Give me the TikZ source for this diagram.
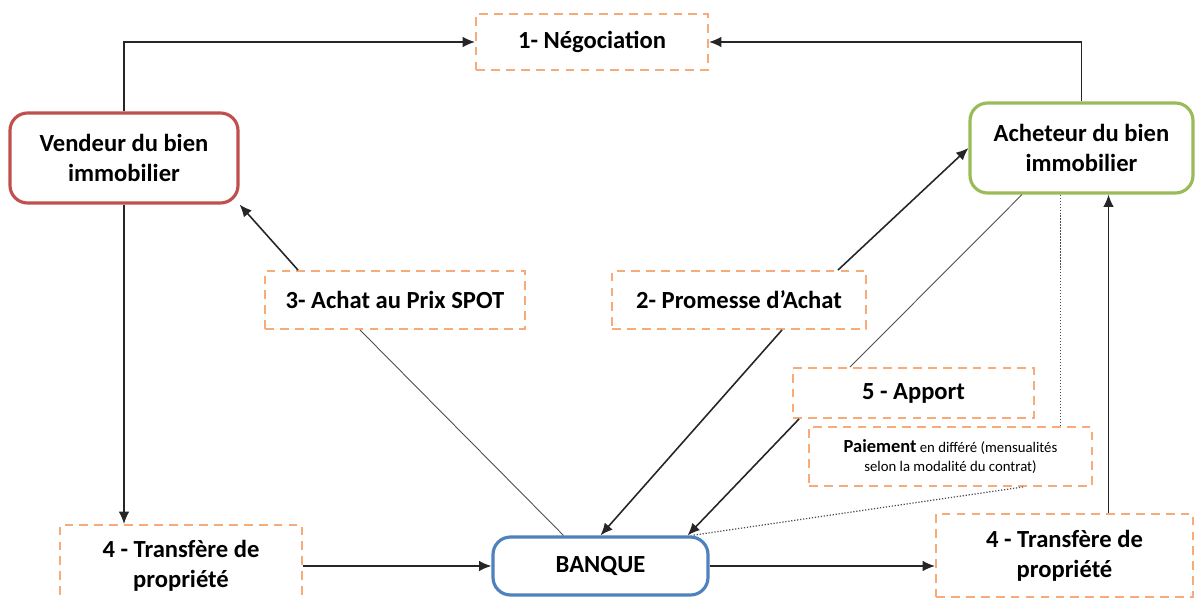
\documentclass[tikz,border=0pt]{standalone}
\usepackage{fontspec}
\setmainfont{Carlito}
\usetikzlibrary{positioning, arrows.meta}
\usepackage{xcolor}
\definecolor{vendeur_color}{RGB}{192, 80, 77}
\definecolor{acheteur_color}{RGB}{155, 187, 89}
\definecolor{banque_color}{RGB}{79, 129, 189}
\definecolor{etape_color}{RGB}{247, 171, 120}

\begin{document}
\begin{tikzpicture}[font=\bfseries\fontsize{14}{17}\selectfont,
    acteur/.style={draw, rounded corners=10pt, line width=1.8pt, fill=white, align=center, inner sep=0pt},
    etape/.style={draw=etape_color, dashed, dash pattern=on 5pt off 3.5pt, line width=1.1pt, align=center, inner sep=0pt},
    fleche/.style={-{Latex[length=7pt,width=6pt]}, line width=0.9pt, black!85},
    lien/.style={line width=0.5pt, black!70},
    pointille/.style={line width=0.7pt, black!70, densely dotted}]

      \useasboundingbox (0,0) rectangle (23.9,12);

      % 1. ACTEURS (boîtes arrondies)
      \node[acteur, draw=vendeur_color, minimum width=4.56cm, minimum height=1.8cm] (vend) at (2.48, 8.84) {Vendeur du bien\\immobilier};
      \node[acteur, draw=acheteur_color, minimum width=4.46cm, minimum height=1.8cm] (ach) at (21.63, 9.04) {Acheteur du bien\\immobilier};
      \node[acteur, draw=banque_color, minimum width=4.3cm, minimum height=1.16cm] (banq) at (12.01, 0.68) {BANQUE};

      % 2. ÉTAPES (cadres en tirets)
      \node[etape, minimum width=4.64cm, minimum height=1.12cm] (nego) at (11.84, 11.16) {1- Négociation};
      \node[etape, minimum width=5.2cm, minimum height=1.16cm] (achat) at (7.9, 6.0) {3- Achat au Prix SPOT};
      \node[etape, minimum width=5.08cm, minimum height=1.16cm] (prom) at (14.78, 6.0) {2- Promesse d’Achat};
      \node[etape, minimum width=4.82cm, minimum height=1.0cm] (apport) at (18.27, 4.14) {5 - Apport};
      \node[etape, minimum width=5.66cm, minimum height=1.18cm, font=\fontsize{8.4}{11}\selectfont] (paie) at (19.01, 2.87)
        {{\bfseries\fontsize{10.5}{11}\selectfont Paiement} en différé (mensualités\\selon la modalité du contrat)};
      \node[etape, minimum width=4.84cm, minimum height=1.64cm] (trg) at (3.62, 0.68) {4 - Transfère de\\propriété};
      \node[etape, minimum width=5.14cm, minimum height=1.66cm] (trd) at (21.29, 0.89) {4 - Transfère de\\propriété};

      % 3. FLÈCHES
      % Négociation
      \draw[fleche] (vend.north) |- (nego.west);
      \draw[fleche] (ach.north) |- (nego.east);

      % Transfert de propriété
      \draw[fleche] (vend.south) -- (vend.south |- trg.north);
      \draw[fleche] (trg.east |- banq.west) -- (banq.west);
      \draw[fleche] (banq.east) -- (banq.east -| trd.west);
      \draw[fleche] ([xshift=0.88cm]trd.north) -- ([xshift=0.88cm]trd.north |- ach.south);

      % Achat au prix spot
      \draw[lien] ([xshift=-0.74cm]banq.north) -- ([xshift=-0.7cm]achat.south);
      \draw[fleche] ([xshift=-1.94cm]achat.north) -- (vend.south east);

      % Promesse d'achat
      \draw[fleche] ([xshift=1.98cm]prom.north) -- (ach.west);
      \draw[fleche] ([xshift=0.86cm]prom.south) -- (banq.north);

      % Apport
      \draw[lien] ([xshift=-1.19cm]ach.south) -- ([xshift=-1.27cm]apport.north);
      \draw[fleche] ([xshift=0.14cm]apport.south west) -- ([xshift=-0.44cm]banq.north east);

      % Paiement différé
      \draw[pointille] ([xshift=-0.42cm]ach.south) -- ([xshift=-0.42cm]ach.south |- paie.north);
      \draw[pointille] ([xshift=1.45cm]paie.south) -- ([xshift=-0.36cm]banq.north east);

\end{tikzpicture}
\end{document}
